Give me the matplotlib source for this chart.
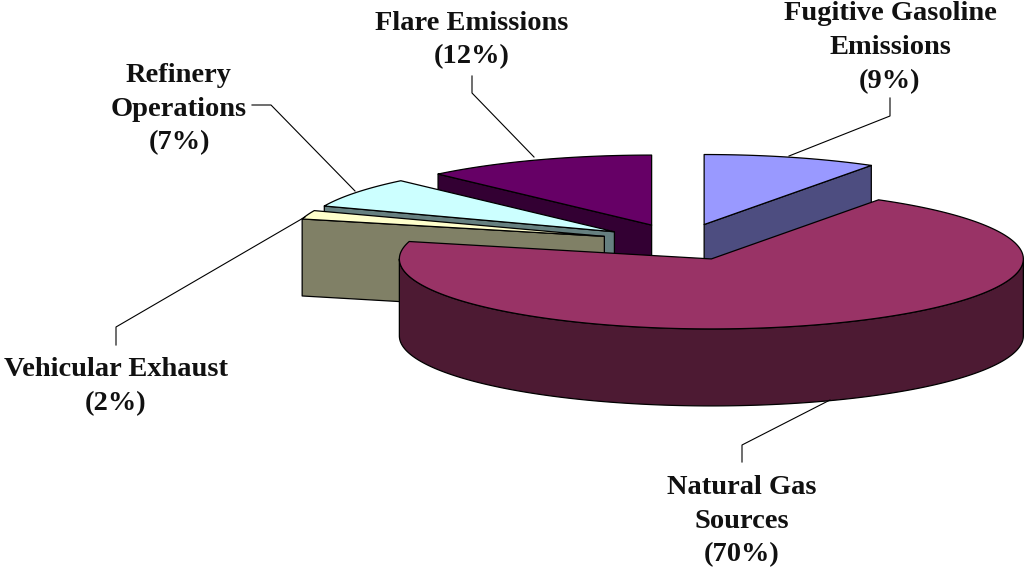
import numpy as np
import matplotlib
matplotlib.use("Agg")
import matplotlib.pyplot as plt
from matplotlib.patches import Polygon

# clockwise from 12 o'clock
sources = ["Fugitive Gasoline\nEmissions", "Natural Gas\nSources", "Vehicular Exhaust",
           "Refinery\nOperations", "Flare Emissions"]
shares = [9, 70, 2, 7, 12]

top_colors = ["#9999FF", "#993366", "#FFFFCC", "#CCFFFF", "#660066"]
side_colors = ["#4D4D80", "#4D1A33", "#808066", "#668080", "#330033"]

label_pos = [(890, 14), (742, 487), (116, 370), (179, 75), (472, 23)]
leaders = [[(890, 98), (890, 116), (789, 156)],
           [(742, 462), (742, 445), (830, 400)],
           [(116, 345), (116, 327), (305, 217)],
           [(252, 105), (271, 105), (355, 191)],
           [(472, 76), (472, 93), (534, 157)]]
draw_order = [4, 0, 3, 2, 1]

# pie geometry in pixels
CX, CY = 681.5, 242
RX, RY = 312, 70
DEPTH = 77
EXPLODE = 0.26
LINE_GAP = 34


def ellipse(cx, cy, t):
    return np.column_stack((cx + RX * np.sin(t), cy - RY * np.cos(t)))


def draw_slice(ax, a0, a1, top, side):
    mid = (a0 + a1) / 2
    cx = CX + EXPLODE * RX * np.sin(mid)
    cy = CY - EXPLODE * RY * np.cos(mid)
    kw = dict(edgecolor="black", linewidth=0.9, joinstyle="round")
    down = np.array([0, DEPTH])
    apex = np.array([cx, cy])

    # only the radial wall that faces the viewer gets drawn
    walls = []
    if np.pi < a0 < 2 * np.pi:
        walls.append(a0)
    if 0 < a1 < np.pi:
        walls.append(a1)
    for a in walls:
        p = ellipse(cx, cy, np.array([a]))[0]
        ax.add_patch(Polygon([apex, p, p + down, apex + down], facecolor=side, **kw))

    # outer rim, only the part facing front
    lo, hi = max(a0, np.pi / 2), min(a1, 3 * np.pi / 2)
    if hi > lo:
        t = np.linspace(lo, hi, 200)
        arc = ellipse(cx, cy, t)
        ax.add_patch(Polygon(np.vstack((arc, arc[::-1] + down)), facecolor=side, **kw))

    t = np.linspace(a0, a1, 200)
    ax.add_patch(Polygon(np.vstack(([apex], ellipse(cx, cy, t))), facecolor=top, **kw))


def main():
    fig = plt.figure(figsize=(10.24, 5.67), dpi=100)
    ax = fig.add_axes([0, 0, 1, 1])
    ax.set_xlim(0, 1024)
    ax.set_ylim(567, 0)
    ax.axis("off")

    edges = np.cumsum([0] + shares) / sum(shares) * 2 * np.pi

    for i in draw_order:
        draw_slice(ax, edges[i], edges[i + 1], top_colors[i], side_colors[i])

    for pts in leaders:
        xs, ys = zip(*pts)
        ax.plot(xs, ys, color="black", linewidth=0.8)

    for name, share, (x, y) in zip(sources, shares, label_pos):
        lines = name.split("\n") + ["(%d%%)" % share]
        for k, line in enumerate(lines):
            ax.text(x, y + k * LINE_GAP, line, ha="center", va="center",
                    family="Liberation Serif", fontweight="bold", fontsize=20.5, color="#111111")

    fig.savefig("out.png", dpi=100)


if __name__ == "__main__":
    main()
